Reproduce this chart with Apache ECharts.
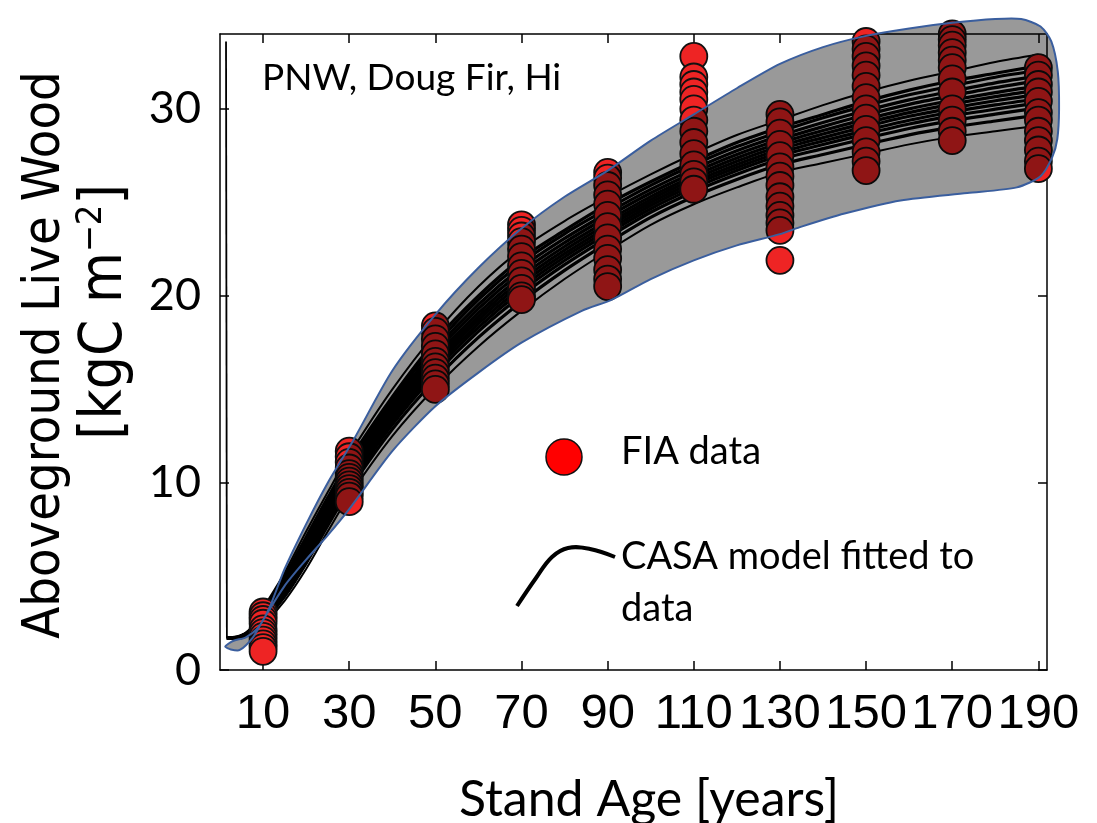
<!DOCTYPE html>
<html><head><meta charset="utf-8">
<script src="https://cdn.jsdelivr.net/npm/echarts@6/dist/echarts.min.js"></script>
<style>html,body{margin:0;padding:0;background:#fff}#c{width:1097px;height:823px}</style>
</head><body><div id="c"></div>
<script>
// ---- axis ticks ----
const xTicks = [10, 30, 50, 70, 90, 110, 130, 150, 170, 190];
const yTicks = [0, 10, 20, 30];

// ---- FIA observations (stand age -> kgC m-2) ----
const fiaAges = [10, 30, 50, 70, 90, 110, 130, 150, 170, 190];
const fia10  = [3.1, 2.9, 2.7, 2.5, 2.2, 2.0, 1.8, 1.6, 1.4, 1.2, 1.0];
const fia30  = [11.7, 11.4, 11.1, 10.8, 10.5, 10.3, 10.1, 9.9, 9.7, 9.5, 9.3, 9.0];
const fia50  = [18.4, 18.1, 17.7, 17.3, 16.9, 16.5, 16.2, 15.9, 15.6, 15.3, 15.0];
const fia70  = [23.8, 23.5, 23.2, 22.9, 22.5, 22.1, 21.6, 21.2, 20.8, 20.4, 20.0, 19.8];
const fia90  = [26.6, 26.3, 25.9, 25.4, 24.9, 24.3, 23.7, 23.1, 22.5, 22.0, 21.4, 20.9, 20.5];
const fia110 = [32.8, 31.7, 31.3, 30.9, 30.5, 30.0, 29.4, 28.8, 28.2, 27.6, 27.0, 26.5, 26.1, 25.7];
const fia130 = [29.7, 29.3, 28.7, 28.1, 27.5, 26.9, 26.4, 25.9, 25.3, 24.8, 24.3, 23.9, 23.5, 21.9];
const fia150 = [33.6, 33.2, 32.8, 32.3, 31.8, 31.2, 30.6, 30.0, 29.5, 28.9, 28.3, 27.7, 27.2, 26.7];
const fia170 = [34.0, 33.7, 33.4, 33.0, 32.6, 32.2, 31.6, 30.9, 30.0, 29.4, 28.8, 28.3];
const fia190 = [32.2, 31.8, 31.3, 30.9, 30.4, 29.8, 29.4, 28.8, 28.3, 27.8, 27.2, 26.8];
const fiaCols = [fia10, fia30, fia50, fia70, fia90, fia110, fia130, fia150, fia170, fia190];

// ---- envelope (uncertainty band) ----
const envUpperAge = [1.2, 3, 6, 9, 11.6, 15, 20, 25, 31, 40, 50, 60, 70, 80, 90, 100, 110, 120, 130, 140, 150, 160, 170, 180, 186, 190.5, 193, 194.5, 194.8, 194.4, 193.2, 190.5];
const envUpperVal = [1.25, 1.55, 1.75, 2.3, 3.4, 5.4, 7.8, 10.0, 12.3, 16.0, 19.0, 21.5, 23.6, 25.3, 26.7, 28.3, 29.7, 31.1, 32.4, 33.3, 33.9, 34.3, 34.6, 34.8, 34.8, 34.4, 33.6, 32.0, 30.0, 28.4, 27.4, 26.4];
const envLowerAge = [185, 173.5, 158, 145, 135, 130, 120, 110, 100, 91, 84, 70, 60, 50, 40, 30, 25, 20, 15, 10, 7.7, 4.6, 2.5];
const envLowerVal = [25.8, 25.5, 25.1, 24.4, 23.7, 23.3, 22.7, 21.9, 20.9, 19.8, 19.2, 17.5, 15.9, 14.1, 11.7, 8.6, 7.2, 5.9, 4.5, 2.67, 1.76, 1.07, 1.1];

// ---- CASA model runs ----
const modelAges = [1.6, 4.5, 7, 10, 15, 20, 25, 30, 40, 50, 60, 70, 80, 90, 100, 110, 120, 130, 140, 150, 160, 170, 180, 190];
const run01 = [1.7, 1.8, 2.2, 3.3, 5.2, 7.4, 9.5, 11.5, 15.0, 18.0, 20.5, 22.5, 24.0, 25.3, 26.5, 27.6, 28.6, 29.4, 30.2, 30.9, 31.5, 32.0, 32.5, 32.9];
const run02 = [1.7, 1.8, 2.15, 3.15, 5.0, 7.1, 9.2, 11.2, 14.6, 17.6, 20.0, 22.0, 23.5, 24.9, 26.1, 27.2, 28.2, 29.0, 29.7, 30.4, 31.0, 31.5, 31.9, 32.3];
const run03 = [1.7, 1.78, 2.13, 3.1, 4.87, 6.96, 9.04, 11.02, 14.45, 17.36, 19.8, 21.77, 23.32, 24.66, 25.91, 27.01, 27.98, 28.78, 29.52, 30.17, 30.75, 31.23, 31.69, 32.06];
const run04 = [1.7, 1.77, 2.11, 3.03, 4.75, 6.8, 8.87, 10.84, 14.25, 17.13, 19.54, 21.51, 23.07, 24.43, 25.69, 26.79, 27.76, 28.56, 29.27, 29.91, 30.48, 30.95, 31.39, 31.76];
const run05 = [1.7, 1.76, 2.09, 2.97, 4.64, 6.66, 8.72, 10.69, 14.07, 16.93, 19.32, 21.28, 22.85, 24.23, 25.5, 26.6, 27.56, 28.36, 29.05, 29.68, 30.24, 30.7, 31.13, 31.49];
const run06 = [1.7, 1.76, 2.07, 2.9, 4.54, 6.52, 8.58, 10.53, 13.9, 16.72, 19.09, 21.05, 22.64, 24.02, 25.31, 26.41, 27.37, 28.17, 28.84, 29.45, 30.0, 30.46, 30.87, 31.23];
const run07 = [1.7, 1.75, 2.05, 2.85, 4.45, 6.4, 8.45, 10.4, 13.75, 16.55, 18.9, 20.85, 22.45, 23.85, 25.15, 26.25, 27.2, 28.0, 28.65, 29.25, 29.8, 30.25, 30.65, 31.0];
const run08 = [1.7, 1.74, 2.03, 2.8, 4.36, 6.28, 8.32, 10.27, 13.6, 16.38, 18.71, 20.65, 22.26, 23.68, 24.99, 26.09, 27.03, 27.83, 28.46, 29.05, 29.6, 30.04, 30.43, 30.77];
const run09 = [1.7, 1.74, 2.01, 2.74, 4.27, 6.16, 8.2, 10.14, 13.45, 16.2, 18.52, 20.45, 22.08, 23.5, 24.83, 25.93, 26.86, 27.66, 28.28, 28.85, 29.39, 29.83, 30.21, 30.54];
const run10 = [1.7, 1.73, 2.0, 2.69, 4.18, 6.04, 8.07, 10.0, 13.3, 16.03, 18.32, 20.26, 21.89, 23.33, 24.66, 25.76, 26.7, 27.5, 28.09, 28.66, 29.19, 29.62, 29.98, 30.32];
const run11 = [1.7, 1.72, 1.97, 2.62, 4.07, 5.9, 7.92, 9.85, 13.12, 15.82, 18.1, 20.02, 21.67, 23.12, 24.47, 25.57, 26.5, 27.3, 27.87, 28.42, 28.95, 29.37, 29.72, 30.05];
const run12 = [1.7, 1.71, 1.94, 2.53, 3.92, 5.7, 7.71, 9.63, 12.87, 15.53, 17.78, 19.69, 21.36, 22.83, 24.2, 25.3, 26.22, 27.02, 27.56, 28.09, 28.61, 29.02, 29.35, 29.67];
const run13 = [1.7, 1.7, 1.9, 2.4, 3.7, 5.4, 7.4, 9.3, 12.5, 15.1, 17.3, 19.2, 20.9, 22.4, 23.8, 24.9, 25.8, 26.6, 27.1, 27.6, 28.1, 28.5, 28.8, 29.1];
const modelRuns = [run01, run02, run03, run04, run05, run06, run07, run08, run09, run10, run11, run12, run13];
// initial spin-up spike of the model
const spikeAges = [1.4, 1.6];
const spikeVals = [33.6, 1.7];

// ---- build ----
const chart = echarts.init(document.getElementById('c'), null, {renderer: 'canvas'});
const FUT = 'Lato, "Open Sans", sans-serif';
const NARROW = '"Liberation Sans Narrow", "DejaVu Sans Condensed", "Liberation Sans", sans-serif';
const SANS = '"Liberation Sans", Arial, sans-serif';

const scatterData = [];
fiaCols.forEach((col, i) => col.forEach(v => scatterData.push([fiaAges[i], v])));

const series = [];
modelRuns.forEach((run, k) => {
  series.push({
    type: 'line', name: 'run' + k, silent: true, animation: false,
    data: modelAges.map((a, i) => [a, run[i]]),
    showSymbol: false, symbol: 'none', smooth: 0.3,
    lineStyle: {color: '#000', width: (k === 0 || k === modelRuns.length - 1) ? 2 : 3.2}, z: 2
  });
});
series.push({
  type: 'line', silent: true, animation: false,
  data: spikeAges.map((a, i) => [a, spikeVals[i]]),
  showSymbol: false, symbol: 'none',
  lineStyle: {color: '#000', width: 1.8}, z: 2
});
series.push({
  type: 'scatter', name: 'FIA data', animation: false, silent: true,
  data: scatterData, symbolSize: 27,
  itemStyle: {color: '#ee2424', borderColor: '#111', borderWidth: 1.8, opacity: 1},
  z: 3
});
series.push({
  type: 'custom', animation: false, silent: true, clip: false,
  data: [[0, 0]],
  renderItem: function (params, api) {
    const pts = [];
    envUpperAge.forEach((a, i) => pts.push(api.coord([a, envUpperVal[i]])));
    envLowerAge.forEach((a, i) => pts.push(api.coord([a, envLowerVal[i]])));
    return {
      type: 'polygon',
      shape: {points: pts, smooth: 0.25},
      style: {fill: 'rgba(0,0,0,0.4)', stroke: '#3a5e9e', lineWidth: 2}
    };
  },
  z: 4
});

const axisLineStyle = {color: '#000', width: 1.5};
const option = {
  backgroundColor: '#fff',
  animation: false,
  grid: {left: 220, top: 34, width: 827, height: 636, containLabel: false},
  xAxis: [{
    type: 'value', min: 0, max: 192, position: 'bottom',
    axisLine: {show: true, onZero: false, lineStyle: axisLineStyle},
    axisTick: {show: true, inside: true, length: 9, customValues: xTicks, lineStyle: axisLineStyle},
    axisLabel: {show: true, customValues: xTicks, margin: 20, fontSize: 49, color: '#000', fontFamily: SANS},
    splitLine: {show: false}
  }, {
    type: 'value', min: 0, max: 192, position: 'top',
    axisLine: {show: true, onZero: false, lineStyle: axisLineStyle},
    axisTick: {show: true, inside: true, length: 9, customValues: xTicks, lineStyle: axisLineStyle},
    axisLabel: {show: false}, splitLine: {show: false}
  }],
  yAxis: [{
    type: 'value', min: 0, max: 34, position: 'left',
    axisLine: {show: true, onZero: false, lineStyle: axisLineStyle},
    axisTick: {show: true, inside: true, length: 9, customValues: yTicks, lineStyle: axisLineStyle},
    axisLabel: {show: true, customValues: yTicks, margin: 19, fontSize: 45, color: '#000', fontFamily: FUT},
    splitLine: {show: false}
  }, {
    type: 'value', min: 0, max: 34, position: 'right',
    axisLine: {show: true, onZero: false, lineStyle: axisLineStyle},
    axisTick: {show: true, inside: true, length: 9, customValues: yTicks, lineStyle: axisLineStyle},
    axisLabel: {show: false}, splitLine: {show: false}
  }],
  series: series,
  graphic: [
    {type: 'text', x: 262, y: 78, z: 100, style: {text: 'PNW, Doug Fir, Hi', fontSize: 37, fontFamily: FUT, fill: '#000', textVerticalAlign: 'middle'}},
    {type: 'circle', shape: {cx: 564, cy: 457, r: 18}, z: 100, style: {fill: '#ff0000', stroke: '#111', lineWidth: 1.5}},
    {type: 'text', x: 621, y: 452, z: 100, style: {text: 'FIA data', fontSize: 38, fontFamily: FUT, fill: '#000', textVerticalAlign: 'middle'}},
    {type: 'polyline', z: 100, shape: {points: [[517, 606], [536, 578], [552, 557], [568, 548], [590, 549], [615, 557]], smooth: 0.4}, style: {fill: null, stroke: '#000', lineWidth: 4}},
    {type: 'text', x: 621, y: 557, z: 100, style: {text: 'CASA model fitted to', fontSize: 38, fontFamily: FUT, fill: '#000', textVerticalAlign: 'middle'}},
    {type: 'text', x: 621, y: 609, z: 100, style: {text: 'data', fontSize: 38, fontFamily: FUT, fill: '#000', textVerticalAlign: 'middle'}},
    {type: 'text', x: 649, y: 800, z: 100, style: {text: 'Stand Age [years]', fontSize: 50, fontFamily: FUT, fill: '#000', textAlign: 'center', textVerticalAlign: 'middle'}},
    {type: 'text', x: 45, y: 355, rotation: Math.PI / 2, z: 100, style: {text: 'Aboveground Live Wood', fontSize: 52, fontFamily: NARROW, fill: '#000', textAlign: 'center', textVerticalAlign: 'middle'}},
    {type: 'text', x: 106, y: 312, rotation: Math.PI / 2, z: 100, style: {
      text: '{m|[kgC m}{s|−2}{m|]}', textAlign: 'center', textVerticalAlign: 'middle',
      rich: {
        m: {fontSize: 58, fontFamily: NARROW, fill: '#000', lineHeight: 64},
        s: {fontSize: 36, fontFamily: NARROW, fill: '#000', verticalAlign: 'top', lineHeight: 64}
      }
    }}
  ]
};
chart.setOption(option);
</script></body></html>
